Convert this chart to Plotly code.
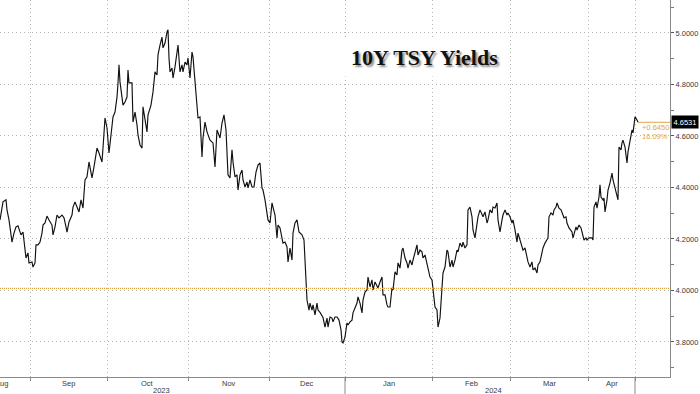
import plotly.graph_objects as go

# intraday bar number (uniform time bars) and 10Y yield readings
bar = [
    0, 1.5, 3, 3.5, 4.5, 6, 7, 8, 9, 10.5,
    11.5, 12, 13, 14, 14.5, 16, 16.5, 17.5, 18, 19,
    20, 21, 21.5, 22.5, 23.5, 24.5, 26, 26.5, 27.5, 28.5,
    29.5, 31, 32, 33, 33.5, 34.5, 36, 36.5, 37.5, 38.5,
    39.5, 40.5, 41.5, 42.5, 43.5, 44.5, 46, 47, 48.5, 49.5,
    51, 51.5, 52.5, 53.5, 54, 54.5, 55.5, 56.5, 57.5, 58.5,
    59, 59.5, 60, 61, 61.5, 62.5, 63.5, 64, 64.5, 65.5,
    66, 66.5, 67.5, 68.5, 69, 70, 71, 71.5, 72.5, 73.5,
    74, 75.5, 76.5, 77.5, 78.5, 79, 80, 81, 81.5, 82.5,
    83.5, 84, 84.5, 85, 86, 86.5, 87.5, 88.5, 89, 90,
    91, 91.5, 92.5, 93.5, 94, 95, 96, 96.5, 97.5, 98.5,
    99, 100, 101, 101.5, 102.5, 103.5, 104, 105, 106.5, 107.5,
    108.5, 110, 111, 112, 113, 113.5, 114, 115, 116, 116.5,
    117.5, 118.5, 119, 120, 121, 121.5, 122.5, 123.5, 124, 125,
    126, 127, 128, 129, 130, 131, 131.5, 132.5, 133.5, 134,
    135, 136, 136.5, 137.5, 138.5, 139, 140, 141, 141.5, 142.5,
    143.5, 144, 145, 146, 146.5, 147.5, 148.5, 149.5, 151, 152,
    152.5, 153, 153.5, 154.5, 155, 156, 156.5, 157.5, 158.5, 159,
    160, 161.5, 162.5, 163.5, 164, 165, 166, 166.5, 167.5, 168.5,
    169.5, 170.5, 171, 171.5, 172.5, 173.5, 174, 175, 176, 176.5,
    177.5, 178.5, 179, 180, 181, 181.5, 182.5, 183.5, 184, 185,
    186, 186.5, 187.5, 188.5, 189, 190, 191, 191.5, 192.5, 193.5,
    194, 195, 196, 196.5, 197.5, 198.5, 199, 200, 201, 201.5,
    202.5, 203.5, 204, 205, 206, 206.5, 207.5, 208.5, 209, 210,
    211, 211.5, 212.5, 213.5, 214, 215, 216, 216.5, 217.5, 218.5,
    219, 220, 221, 221.5, 222.5, 223.5, 224, 225, 226, 226.5,
    227.5, 228.5, 229, 230, 231, 231.5, 232.5, 233.5, 234, 235,
    236, 236.5, 237.5, 238.5, 239, 240, 241, 241.5, 242.5, 243.5,
    244, 245, 246, 246.5, 247.5, 248.5, 249, 250, 251, 251.5,
    252.5, 253.5, 254, 255, 256, 256.5, 257.5, 258.5, 259, 260,
    261, 261.5, 262.5, 263.5, 264, 265, 266, 266.5, 267.5, 268.5,
    269, 270, 271, 271.5, 272.5, 273.5, 274, 274.5, 275.5, 276.5,
    277, 278, 278.5, 279.5, 280.5, 281.5, 282, 283, 283.5, 284.5,
    286, 286.5, 287, 288, 288.5, 289.5, 290.5, 291, 291.5, 292,
    293, 293.5, 294.5, 296, 296.5, 297, 298, 298.5, 299.5, 300,
    300.5, 301.5, 302, 302.5, 303.5, 304, 305, 306, 306.5, 307.5,
    308.5, 309, 309.5, 310.5, 311, 311.5, 312.5, 313.5, 314, 315,
    316, 316.5, 317, 317.5, 318.5, 319,
]

yld = [
    4.274, 4.344, 4.352, 4.313, 4.274, 4.188, 4.223, 4.247, 4.251, 4.216,
    4.227, 4.184, 4.126, 4.146, 4.107, 4.111, 4.091, 4.107, 4.177, 4.177,
    4.188, 4.223, 4.254, 4.262, 4.289, 4.274, 4.254, 4.216, 4.247, 4.293,
    4.282, 4.293, 4.282, 4.247, 4.227, 4.266, 4.293, 4.324, 4.344, 4.324,
    4.305, 4.352, 4.320, 4.429, 4.441, 4.499, 4.437, 4.480, 4.553, 4.534,
    4.499, 4.553, 4.670, 4.631, 4.565, 4.534, 4.604, 4.674, 4.693, 4.751,
    4.806, 4.876, 4.810, 4.759, 4.720, 4.732, 4.751, 4.856, 4.806, 4.806,
    4.806, 4.654, 4.693, 4.643, 4.604, 4.565, 4.553, 4.713, 4.670, 4.616,
    4.682, 4.720, 4.771, 4.849, 4.837, 4.915, 4.953, 4.984, 4.942, 4.961,
    5.004, 5.012, 4.903, 4.849, 4.864, 4.825, 4.868, 4.926, 4.953, 4.849,
    4.876, 4.849, 4.887, 4.876, 4.903, 4.825, 4.926, 4.907, 4.810, 4.732,
    4.670, 4.674, 4.518, 4.592, 4.654, 4.616, 4.604, 4.584, 4.573, 4.480,
    4.623, 4.592, 4.650, 4.682, 4.623, 4.507, 4.449, 4.437, 4.546, 4.499,
    4.441, 4.449, 4.390, 4.449, 4.468, 4.429, 4.402, 4.421, 4.398, 4.429,
    4.402, 4.402, 4.460, 4.487, 4.495, 4.398, 4.390, 4.352, 4.293, 4.274,
    4.262, 4.340, 4.324, 4.293, 4.204, 4.254, 4.243, 4.208, 4.184, 4.188,
    4.169, 4.111, 4.165, 4.118, 4.223, 4.262, 4.274, 4.227, 4.216, 4.196,
    4.118, 4.014, 3.963, 3.924, 3.951, 3.924, 3.944, 3.905, 3.951, 3.924,
    3.915, 3.895, 3.858, 3.893, 3.858, 3.897, 3.893, 3.878, 3.897, 3.897,
    3.885, 3.847, 3.800, 3.796, 3.819, 3.874, 3.866, 3.878, 3.885, 3.913,
    3.936, 3.951, 3.975, 3.951, 3.913, 3.963, 3.994, 4.002, 4.052, 4.014,
    4.041, 4.002, 4.033, 4.014, 4.010, 4.033, 4.052, 3.983, 3.983, 3.944,
    3.936, 3.936, 4.010, 4.002, 4.072, 4.060, 4.107, 4.087, 4.157, 4.165,
    4.126, 4.107, 4.087, 4.118, 4.099, 4.118, 4.146, 4.177, 4.138, 4.157,
    4.150, 4.126, 4.138, 4.107, 4.080, 4.052, 4.041, 4.002, 3.936, 3.924,
    3.858, 3.893, 4.010, 4.068, 4.091, 4.157, 4.150, 4.091, 4.118, 4.091,
    4.118, 4.157, 4.150, 4.184, 4.169, 4.188, 4.165, 4.177, 4.313, 4.324,
    4.286, 4.235, 4.204, 4.262, 4.286, 4.313, 4.293, 4.286, 4.305, 4.262,
    4.274, 4.313, 4.301, 4.324, 4.320, 4.340, 4.274, 4.227, 4.274, 4.293,
    4.313, 4.293, 4.301, 4.286, 4.262, 4.274, 4.235, 4.188, 4.223, 4.196,
    4.169, 4.157, 4.165, 4.130, 4.111, 4.091, 4.111, 4.080, 4.087, 4.068,
    4.099, 4.111, 4.146, 4.165, 4.184, 4.196, 4.204, 4.286, 4.301, 4.293,
    4.313, 4.324, 4.340, 4.320, 4.313, 4.293, 4.282, 4.286, 4.262, 4.243,
    4.227, 4.204, 4.223, 4.247, 4.235, 4.254, 4.243, 4.227, 4.223, 4.196,
    4.204, 4.196, 4.204, 4.204, 4.196, 4.324, 4.344, 4.320, 4.363, 4.410,
    4.363, 4.352, 4.359, 4.305, 4.352, 4.390, 4.418, 4.456, 4.429, 4.402,
    4.371, 4.352, 4.557, 4.546, 4.573, 4.584, 4.557, 4.495, 4.538, 4.584,
    4.623, 4.612, 4.635, 4.674, 4.662, 4.6531,
]
assert len(bar) == len(yld)

month_names = ["Aug", "Sep", "Oct", "Nov", "Dec", "Jan", "Feb", "Mar", "Apr"]
month_start = [-14, 15, 53.5, 94, 134.5, 172.5, 216, 255, 294]
last_session = 317.5
year_names = ["2023", "2024"]
year_label_pos = [80.5, 246.5]
year_breaks = [172.5, 317.5]
y_ticks = [3.8, 4.0, 4.2, 4.4, 4.6, 4.8, 5.0]
ref_level = 4.0081
last_value = 4.6531
change = 0.6450
change_pct = 16.09

X_RANGE = [0, 335]
Y_RANGE = [3.664, 5.128]
ORANGE = "#e3a541"
GRID = "#b4b4b4"
AX = "#8a8a8a"
TXT = "#3a3a3a"
FONT = "Liberation Sans, Arial, sans-serif"

month_bounds = month_start[1:] + [last_session]
month_centers = [(a + b) / 2 for a, b in zip(month_start, month_bounds)]

fig = go.Figure()
fig.add_trace(go.Scatter(x=bar, y=yld, mode="lines",
                         line=dict(color="#111111", width=1.15),
                         hoverinfo="skip"))

shapes = [
    dict(type="line", xref="paper", yref="y", x0=0, x1=1, y0=ref_level, y1=ref_level,
         line=dict(color=ORANGE, width=1.3, dash="1px,1px"), layer="above"),
    dict(type="line", xref="x", yref="y", x0=bar[-1], x1=X_RANGE[1],
         y0=last_value, y1=last_value, line=dict(color=ORANGE, width=1)),
]
for xb in year_breaks:
    shapes.append(dict(type="line", xref="x", yref="paper", x0=xb, x1=xb,
                       y0=0, y1=-0.05, line=dict(color=AX, width=1)))

ann = []
for name, xc in zip(month_names, month_centers):
    ann.append(dict(x=xc, y=0, xref="x", yref="paper", text=name, showarrow=False,
                    xanchor="center", yanchor="top", yshift=-1, borderpad=0,
                    font=dict(family=FONT, size=7.5, color=TXT)))
for name, xc in zip(year_names, year_label_pos):
    ann.append(dict(x=xc, y=0, xref="x", yref="paper", text=name, showarrow=False,
                    xanchor="center", yanchor="top", yshift=-7.5, borderpad=0,
                    font=dict(family=FONT, size=7.5, color=TXT)))
# title with drop shadow
ann.append(dict(x=0.634, y=0.848, xref="paper", yref="paper",
                text="<b>10Y TSY Yields</b>", showarrow=False,
                xanchor="center", yanchor="middle", bgcolor="white", borderpad=6,
                font=dict(family="Liberation Serif, Times New Roman, serif", size=22,
                          color="#111111", shadow="2px 2px 2px #8c8c8c")))
# last value box
ann.append(dict(x=1, y=last_value, xref="paper", yref="y", text=f"{last_value:.4f}",
                showarrow=False, xanchor="left", yanchor="middle", xshift=1,
                bgcolor="black", borderpad=1.5,
                font=dict(family=FONT, size=7.5, color="white")))
ann.append(dict(x=bar[-1], y=last_value, xref="x", yref="y", text=f"+{change:.4f}",
                showarrow=False, xanchor="left", yanchor="middle", xshift=2, yshift=-5,
                font=dict(family=FONT, size=7.5, color=ORANGE)))
ann.append(dict(x=bar[-1], y=last_value, xref="x", yref="y", text=f"{change_pct:.2f}%",
                showarrow=False, xanchor="left", yanchor="middle", xshift=2, yshift=-14,
                font=dict(family=FONT, size=7.5, color=ORANGE)))

fig.update_layout(
    width=700, height=394,
    margin=dict(l=0, r=30, t=0, b=17, pad=0),
    paper_bgcolor="white", plot_bgcolor="white",
    showlegend=False,
    shapes=shapes, annotations=ann,
    xaxis=dict(range=X_RANGE, tickmode="array", tickvals=month_bounds,
               showticklabels=False, ticks="outside", ticklen=3, tickcolor=AX,
               showgrid=True, gridcolor=GRID, griddash="1px,3px", gridwidth=1,
               showline=True, linecolor=AX, linewidth=1, zeroline=False,
               fixedrange=True),
    yaxis=dict(range=Y_RANGE, side="right", tickmode="array", tickvals=y_ticks,
               tickformat=".4f", ticks="outside", ticklen=3, tickcolor="#555",
               tickfont=dict(family=FONT, size=7.5, color=TXT),
               showgrid=True, gridcolor=GRID, griddash="1px,3px", gridwidth=1,
               showline=True, linecolor=AX, linewidth=1, zeroline=False,
               minor=dict(tickmode="linear", tick0=3.7, dtick=0.1, ticks="outside",
                          ticklen=3, tickcolor="#777", showgrid=False),
               fixedrange=True),
)

fig.write_html("out.html", config={"displayModeBar": False},
               post_script="document.body.style.margin='0';"
                           "document.body.style.overflow='hidden';")
